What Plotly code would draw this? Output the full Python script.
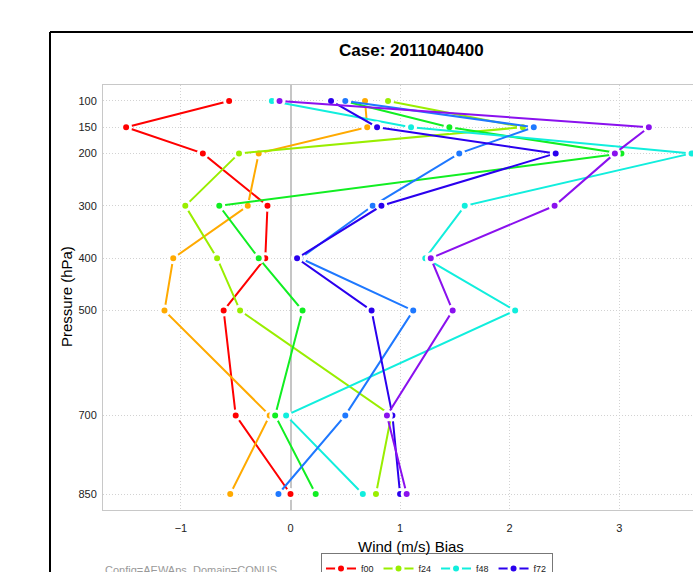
import plotly.graph_objects as go

# Pressure levels (hPa) and wind bias (m/s) per forecast lead
levels = [100, 150, 200, 300, 400, 500, 700, 850]
level_labels = ["100", "150", "200", "300", "400", "500", "700", "850"]

f00 = [-0.56, -1.50, -0.80, -0.21, -0.23, -0.61, -0.50, 0.00]
f12 = [0.68, 0.70, -0.29, -0.39, -1.07, -1.15, -0.19, -0.55]
f24 = [0.89, 2.12, -0.47, -0.96, -0.67, -0.46, 0.92, 0.78]
f36 = [0.49, 1.45, 3.02, -0.65, -0.29, 0.11, -0.14, 0.23]
f48 = [-0.17, 1.10, 3.66, 1.59, 1.23, 2.05, -0.04, 0.66]
f60 = [0.50, 2.22, 1.54, 0.75, 0.09, 1.12, 0.50, -0.11]
f72 = [0.37, 0.79, 2.42, 0.83, 0.06, 0.74, 0.93, 1.00]
f84 = [-0.10, 3.27, 2.96, 2.41, 1.28, 1.48, 0.88, 1.06]

series_names = ["f00", "f12", "f24", "f36", "f48", "f60", "f72", "f84"]
series_values = [f00, f12, f24, f36, f48, f60, f72, f84]
series_colors = ["#FF0000", "#FFAA00", "#99EE00", "#11EE22",
                 "#11EEDD", "#1E78FF", "#2A00EE", "#8A11EE"]
# legend columns hold two leads each: (f00,f12) (f24,f36) (f48,f60) (f72,f84)
legend_groups = ["c1", "c1", "c2", "c2", "c3", "c3", "c4", "c4"]

x_ticks = [-1, 0, 1, 2, 3]

W, H = 693, 572
ML, MR, MT, MB = 103, 0, 85, 62
PW, PH = W - ML - MR, H - MT - MB


def px_x(p):
    return (p - ML) / PW


def px_y(p):
    return (H - MB - p) / PH


fig = go.Figure()
for name, vals, col, grp in zip(series_names, series_values, series_colors, legend_groups):
    fig.add_trace(go.Scatter(
        x=vals, y=levels, name=name, mode="lines+markers",
        line=dict(color=col, width=2),
        marker=dict(color=col, size=9, line=dict(color="white", width=3)),
        legendgroup=grp, cliponaxis=True,
    ))

font = "Liberation Sans, Arial, Helvetica, sans-serif"
grid_dash = "1px,2px"

fig.update_layout(
    width=W, height=H,
    margin=dict(l=ML, r=MR, t=MT, b=MB, autoexpand=False),
    paper_bgcolor="white", plot_bgcolor="white",
    font=dict(family=font, color="#222222", size=11),
    showlegend=True,
    legend=dict(
        orientation="h", x=px_x(321), y=px_y(553), xanchor="left", yanchor="top",
        bordercolor="#777777", borderwidth=1, bgcolor="white",
        font=dict(size=9, family=font, color="#222222"),
        itemwidth=30, tracegroupgap=0, itemclick=False, groupclick="toggleitem",
    ),
    xaxis=dict(
        range=[-1.711, 3.673], tickvals=x_ticks, ticks="",
        showgrid=True, gridcolor="#D2D2D2", griddash=grid_dash, gridwidth=1,
        zeroline=True, zerolinecolor="#C6C6C6", zerolinewidth=2,
        showline=True, linecolor="#C8C8C8", linewidth=1, mirror=True,
        tickfont=dict(size=11), ticklabelstandoff=8,
    ),
    yaxis=dict(
        range=[880.5, 69.5], tickvals=levels, ticktext=level_labels, ticks="",
        showgrid=True, gridcolor="#D2D2D2", griddash=grid_dash, gridwidth=1,
        zeroline=False,
        showline=True, linecolor="#C8C8C8", linewidth=1, mirror=True,
        tickfont=dict(size=11), ticklabelstandoff=3,
    ),
    shapes=[
        # outer frame (left and top edges)
        dict(type="line", xref="paper", yref="paper",
             x0=px_x(50), x1=px_x(50), y0=px_y(32), y1=px_y(600),
             line=dict(color="black", width=2)),
        dict(type="line", xref="paper", yref="paper",
             x0=px_x(50), x1=px_x(720), y0=px_y(32), y1=px_y(32),
             line=dict(color="black", width=2)),
    ],
    annotations=[
        dict(text="<b>Case: 2011040400</b>", xref="paper", yref="paper",
             x=px_x(411), y=px_y(51), xanchor="center", yanchor="middle",
             showarrow=False, font=dict(size=17, family=font, color="black")),
        dict(text="Wind (m/s) Bias", xref="paper", yref="paper",
             x=px_x(411), y=px_y(546), xanchor="center", yanchor="middle",
             showarrow=False, font=dict(size=15, family=font, color="black")),
        dict(text="Pressure (hPa)", xref="paper", yref="paper",
             x=px_x(66), y=px_y(297), xanchor="center", yanchor="middle",
             showarrow=False, textangle=-90,
             font=dict(size=15, family=font, color="black")),
        dict(text="Config=AEWAps, Domain=CONUS", xref="paper", yref="paper",
             x=px_x(103), y=px_y(562), xanchor="left", yanchor="top",
             showarrow=False,
             font=dict(size=11, family=font, color="#9A9A9A")),
    ],
)

fig.write_html("out.html")
